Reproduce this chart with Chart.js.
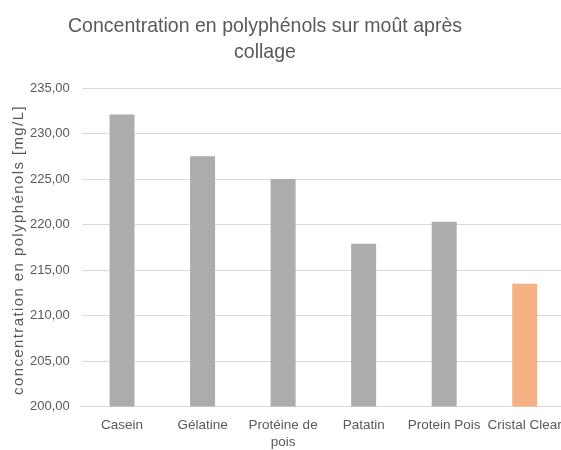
<!DOCTYPE html>
<html>
<head>
<meta charset="utf-8">
<script src="https://cdn.jsdelivr.net/npm/chart.js@4/dist/chart.umd.min.js"></script>
<style>
  html, body { margin: 0; padding: 0; background: #fff; overflow: hidden; }
  #c { display: block; }
</style>
</head>
<body>
<canvas id="c" width="566" height="450"></canvas>
<script>
const TITLE_LINES = ['Concentration en polyphénols sur moût après', 'collage'];
const Y_TITLE = 'concentration en polyphénols [mg/L]';
const categories = ['Casein', 'Gélatine', 'Protéine de pois', 'Patatin', 'Protein Pois', 'Cristal Clear'];
const values = [232.1, 227.5, 225.0, 217.9, 220.3, 213.5];
const barColors = ['#AEABAB', '#AEABAB', '#AEABAB', '#AEABAB', '#AEABAB', '#F4B183'];
const yMin = 200, yMax = 235, yStep = 5;

const labels = categories.map(c => c === 'Protéine de pois' ? ['Protéine de', 'pois'] : c);
const FONT = '"Liberation Sans", Arial, sans-serif';

const textPlugin = {
  id: 'customText',
  afterDraw(chart) {
    const ctx = chart.ctx;
    ctx.save();
    ctx.fillStyle = '#595959';
    ctx.font = '21px ' + FONT;
    ctx.textAlign = 'center';
    ctx.textBaseline = 'alphabetic';
    TITLE_LINES.forEach((t, i) => {
      ctx.save();
      ctx.translate(265, 32 + i * 26);
      ctx.scale(0.93, 1);
      ctx.fillText(t, 0, 0);
      ctx.restore();
    });
    ctx.restore();

    ctx.save();
    ctx.fillStyle = '#595959';
    ctx.font = '15px ' + FONT;
    if ('letterSpacing' in ctx) ctx.letterSpacing = '1.4px';
    ctx.textAlign = 'center';
    ctx.textBaseline = 'middle';
    ctx.translate(19, 250);
    ctx.rotate(-Math.PI / 2);
    ctx.fillText(Y_TITLE, 0, 0);
    ctx.restore();
  }
};

new Chart(document.getElementById('c'), {
  type: 'bar',
  data: {
    labels: labels,
    datasets: [{
      data: values,
      backgroundColor: barColors,
      categoryPercentage: 1,
      barPercentage: 0.31
    }]
  },
  options: {
    responsive: false,
    animation: false,
    layout: { padding: { top: 88, left: 18, right: 1, bottom: -11 } },
    plugins: { legend: { display: false }, tooltip: { enabled: false } },
    scales: {
      x: {
        afterFit: s => { s.paddingRight = 0; s.paddingLeft = 0; },
        grid: { display: false, drawTicks: false },
        border: { color: '#D9D9D9', width: 1 },
        ticks: { color: '#595959', font: { family: FONT, size: 13.5, lineHeight: 1.2 }, padding: 11, maxRotation: 0, autoSkip: false }
      },
      y: {
        min: yMin, max: yMax,
        ticks: {
          stepSize: yStep,
          color: '#595959',
          font: { family: FONT, size: 13 },
          padding: 12,
          callback: v => v.toFixed(2).replace('.', ',')
        },
        grid: { color: '#D9D9D9', drawTicks: false },
        border: { display: false }
      }
    }
  },
  plugins: [textPlugin]
});
</script>
</body>
</html>
